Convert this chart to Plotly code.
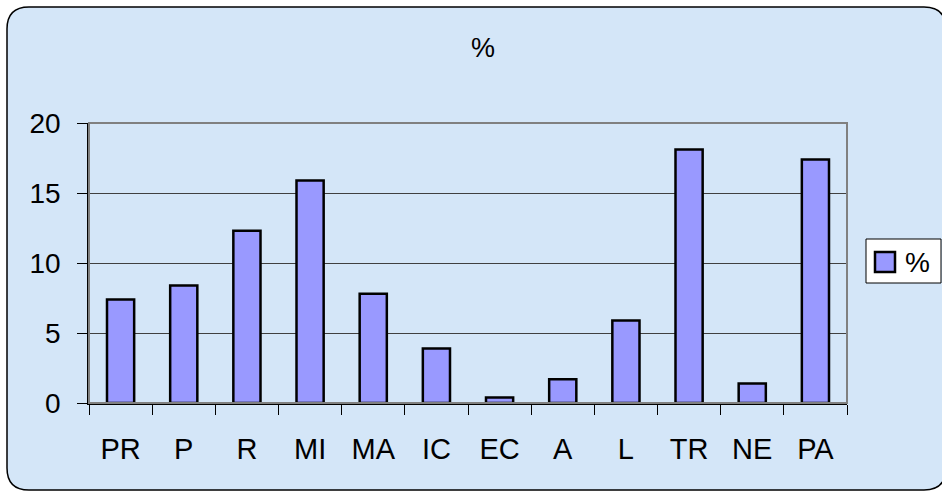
import plotly.graph_objects as go

# Share of each category, in percent
categories = ["PR", "P", "R", "MI", "MA", "IC", "EC", "A", "L", "TR", "NE", "PA"]
percent = [7.4, 8.4, 12.3, 15.9, 7.8, 3.9, 0.4, 1.7, 5.9, 18.1, 1.4, 17.4]
series_name = "%"
y_ticks = [0, 5, 10, 15, 20]

W, H = 942, 491
L, R, T, B = 89, 95, 123, 88
PW, PH = W - L - R, H - T - B
FONT = "Arial, Liberation Sans, sans-serif"


def fx(px):
    return (px - L) / PW


def fy(py):
    return (H - B - py) / PH


def rounded_rect(x0, y0, x1, y1, r):
    pts = [
        f"M{fx(x0 + r)},{fy(y0)}",
        f"L{fx(x1 - r)},{fy(y0)}",
        f"Q{fx(x1)},{fy(y0)} {fx(x1)},{fy(y0 + r)}",
        f"L{fx(x1)},{fy(y1 - r)}",
        f"Q{fx(x1)},{fy(y1)} {fx(x1 - r)},{fy(y1)}",
        f"L{fx(x0 + r)},{fy(y1)}",
        f"Q{fx(x0)},{fy(y1)} {fx(x0)},{fy(y1 - r)}",
        f"L{fx(x0)},{fy(y0 + r)}",
        f"Q{fx(x0)},{fy(y0)} {fx(x0 + r)},{fy(y0)}",
        "Z",
    ]
    return " ".join(pts)


fig = go.Figure(
    go.Bar(
        x=categories,
        y=percent,
        name=series_name,
        marker=dict(color="#9999ff", line=dict(color="#000000", width=2.5)),
        showlegend=False,
    )
)

shapes = [
    # chart area: rounded panel
    dict(
        type="path", xref="paper", yref="paper", layer="below",
        path=rounded_rect(7, 7, 946, 490, 22),
        fillcolor="#d4e6f8", line=dict(color="#000000", width=1.5),
    ),
    # plot area frame
    dict(
        type="rect", xref="paper", yref="paper", layer="above",
        x0=0, x1=1, y0=0, y1=1, line=dict(color="#808080", width=2),
    ),
    # legend box
    dict(
        type="rect", xref="paper", yref="paper", layer="above",
        x0=fx(866), x1=fx(941), y0=fy(283), y1=fy(239),
        fillcolor="#ffffff", line=dict(color="#000000", width=1),
    ),
    # legend key
    dict(
        type="rect", xref="paper", yref="paper", layer="above",
        x0=fx(875), x1=fx(895), y0=fy(272), y1=fy(252),
        fillcolor="#9999ff", line=dict(color="#000000", width=2.5),
    ),
]

annotations = [
    dict(
        text=series_name, xref="paper", yref="paper", x=fx(903), y=fy(262),
        xanchor="left", yanchor="middle", showarrow=False,
        font=dict(family=FONT, size=28, color="#000000"),
    ),
]

fig.update_layout(
    width=W, height=H,
    margin=dict(l=L, r=R, t=T, b=B, pad=0),
    paper_bgcolor="#ffffff",
    plot_bgcolor="#c0c0c0",
    bargap=0.57,
    title=dict(
        text=series_name, x=fx(483), xref="paper", xanchor="center",
        y=1 - 48 / H, yref="container", yanchor="middle",
        font=dict(family=FONT, size=27, color="#000000"),
    ),
    shapes=shapes,
    annotations=annotations,
    showlegend=False,
)

fig.update_xaxes(
    type="category",
    tickson="boundaries",
    ticks="outside", ticklen=10, tickwidth=1, tickcolor="#000000",
    showline=True, linecolor="#000000", linewidth=1.5,
    showgrid=False,
    tickfont=dict(family=FONT, size=29, color="#000000"),
    ticklabelstandoff=19,
)

fig.update_yaxes(
    range=[0, 20],
    tickvals=y_ticks,
    ticks="outside", ticklen=10, tickwidth=1, tickcolor="#000000",
    showline=True, linecolor="#000000", linewidth=1.5,
    showgrid=True, gridcolor="#404040", gridwidth=1,
    zeroline=False,
    tickfont=dict(family=FONT, size=28, color="#000000"),
    ticklabelstandoff=11,
)

fig.write_html("out.html")
